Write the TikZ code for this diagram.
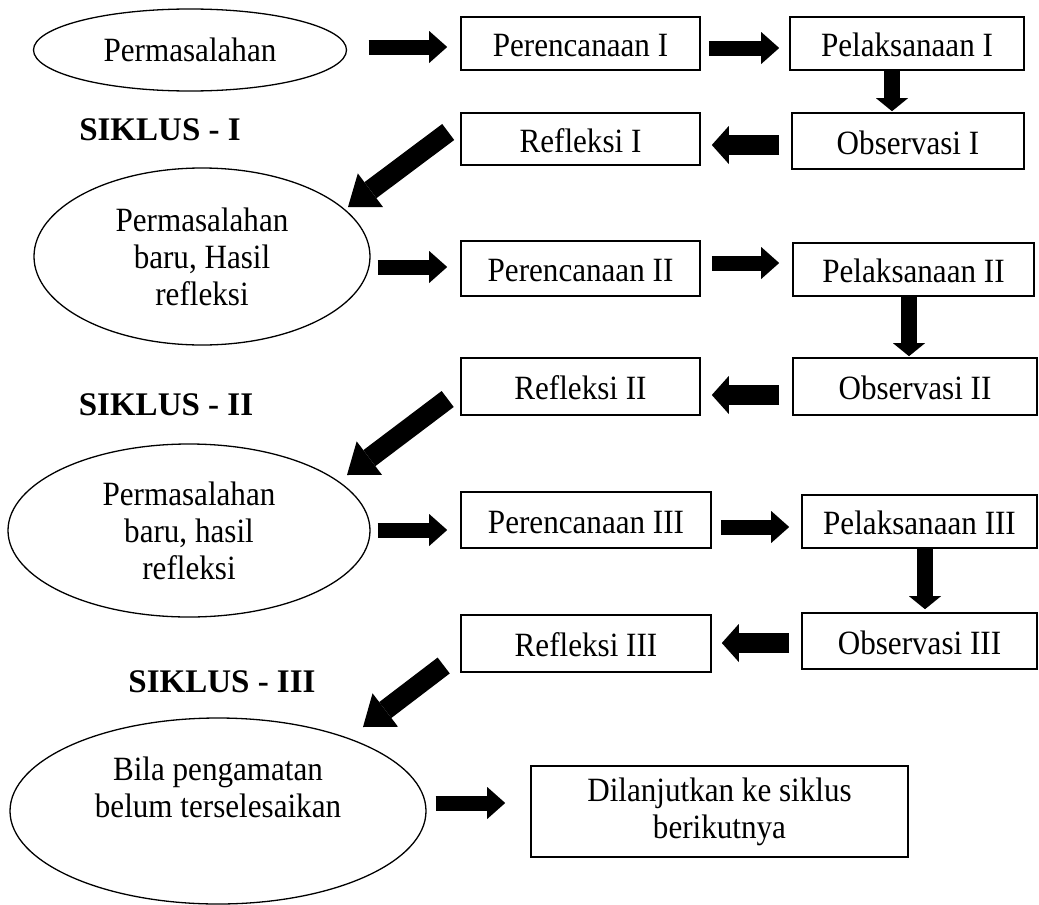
\documentclass[tikz,border=0pt]{standalone}
\usepackage{fontspec}
\setmainfont[FakeStretch=0.915]{Liberation Serif}
\newfontfamily\lblfont{Liberation Serif}
\usetikzlibrary{arrows.meta,shapes.geometric}
\begin{document}
\begin{tikzpicture}[x=1pt,y=-1pt,
  every node/.style={font=\fontsize{34}{37}\selectfont},
  box/.style={draw,line width=1.6pt,inner sep=0pt,rectangle},
  onebox/.style={box,text height=26pt,text depth=0pt},
  oval/.style={draw,line width=1.3pt,ellipse,inner sep=0pt,align=center},
  lbl/.style={font=\lblfont\fontsize{33}{37}\selectfont\bfseries,anchor=base},
  fatR/.style={line width=15pt,-{Triangle[length=18pt,width=32pt,line width=0pt]}},
  fatL/.style={line width=20pt,-{Triangle[length=17pt,width=38pt,line width=0pt]}},
  fatD/.style={line width=16pt,-{Triangle[length=13pt,width=32pt,line width=0pt]}},
  fatX/.style={line width=20pt,-{Triangle[length=28pt,width=42pt,line width=0pt]}}
]
\useasboundingbox (0,0) rectangle (1039,905);

% ovals
\node[oval,minimum width=313pt,minimum height=82pt] (e1) at (190,50) {Permasalahan};
\node[oval,minimum width=336pt,minimum height=177pt] (e2) at (202,256.5) {Permasalahan\\baru, Hasil\\refleksi};
\node[oval,minimum width=362pt,minimum height=173pt] (e3) at (189,530.5) {Permasalahan\\baru, hasil\\refleksi};
\node[oval,minimum width=416pt,minimum height=186pt] (e4) at (218,811) {Bila pengamatan\\belum terselesaikan\\\strut};

% boxes
\node[onebox,minimum width=239pt,minimum height=53pt] (p1) at (580.5,43.5) {Perencanaan I};
\node[onebox,minimum width=234pt,minimum height=53pt] (l1) at (907,43.5) {Pelaksanaan I};
\node[onebox,minimum width=232pt,minimum height=56pt] (o1) at (908,141) {Observasi I};
\node[onebox,minimum width=239pt,minimum height=52pt] (r1) at (580.5,139) {Refleksi I};

\node[onebox,minimum width=239pt,minimum height=55pt] (p2) at (580.5,268.5) {Perencanaan II};
\node[onebox,minimum width=241pt,minimum height=53pt] (l2) at (913.5,269.5) {Pelaksanaan II};
\node[onebox,minimum width=244pt,minimum height=57pt] (o2) at (915,386.5) {Observasi II};
\node[onebox,minimum width=239pt,minimum height=57pt] (r2) at (580.5,386.5) {Refleksi II};

\node[onebox,minimum width=250pt,minimum height=56pt] (p3) at (586,520) {Perencanaan III};
\node[onebox,minimum width=235pt,minimum height=53pt] (l3) at (919.5,521.5) {Pelaksanaan III};
\node[onebox,minimum width=235pt,minimum height=56pt] (o3) at (919.5,641) {Observasi III};
\node[onebox,minimum width=250pt,minimum height=57pt] (r3) at (586,643.5) {Refleksi III};

\node[box,align=center,minimum width=377pt,minimum height=91pt] (d) at (719.5,811.5) {Dilanjutkan ke siklus\\berikutnya};

% labels
\node[lbl] (s1) at (160,140) {SIKLUS - I};
\node[lbl] (s2) at (166,415) {SIKLUS - II};
\node[lbl] (s3) at (222,692) {SIKLUS - III};

% arrows
\draw[fatR] ([shift={(21.5,-3)}]e1.east) -- ([shift={(-13,3.5)}]p1.west);
\draw[fatR] ([shift={(8,4.5)}]p1.east) -- ([shift={(-10,4.5)}]l1.west);
\draw[fatD] ([shift={(-15,0)}]l1.south) -- ([shift={(-16,-1)}]o1.north);
\draw[fatL] ([shift={(-12,4)}]o1.west) -- ([shift={(11,6)}]r1.east);
\draw[fatX] ([shift={(-12,-7)}]r1.west) -- ([shift={(146,-49.5)}]e2.center);

\draw[fatR] ([shift={(7,10.5)}]e2.east) -- ([shift={(-13,-1.5)}]p2.west);
\draw[fatR] ([shift={(11,-5.5)}]p2.east) -- ([shift={(-13,-6.5)}]l2.west);
\draw[fatD] ([shift={(-4.5,0)}]l2.south) -- ([shift={(-6,-1)}]o2.north);
\draw[fatL] ([shift={(-13,8.5)}]o2.west) -- ([shift={(11,8.5)}]r2.east);
\draw[fatX] ([shift={(-12.5,12.5)}]r2.west) -- ([shift={(158,-55.5)}]e3.center);

\draw[fatR] ([shift={(7,-0.5)}]e3.east) -- ([shift={(-13,10)}]p3.west);
\draw[fatR] ([shift={(9,7)}]p3.east) -- ([shift={(-12,5.5)}]l3.west);
\draw[fatD] ([shift={(5.5,0)}]l3.south) -- ([shift={(5.5,-3)}]o3.north);
\draw[fatL] ([shift={(-12,2)}]o3.west) -- ([shift={(10,-0.5)}]r3.east);
\draw[fatX] ([shift={(-16.5,22)}]r3.west) -- ([shift={(145,-84)}]e4.center);

\draw[fatR] ([shift={(9,-8)}]e4.east) -- ([shift={(-25,-8.5)}]d.west);
\end{tikzpicture}
\end{document}
